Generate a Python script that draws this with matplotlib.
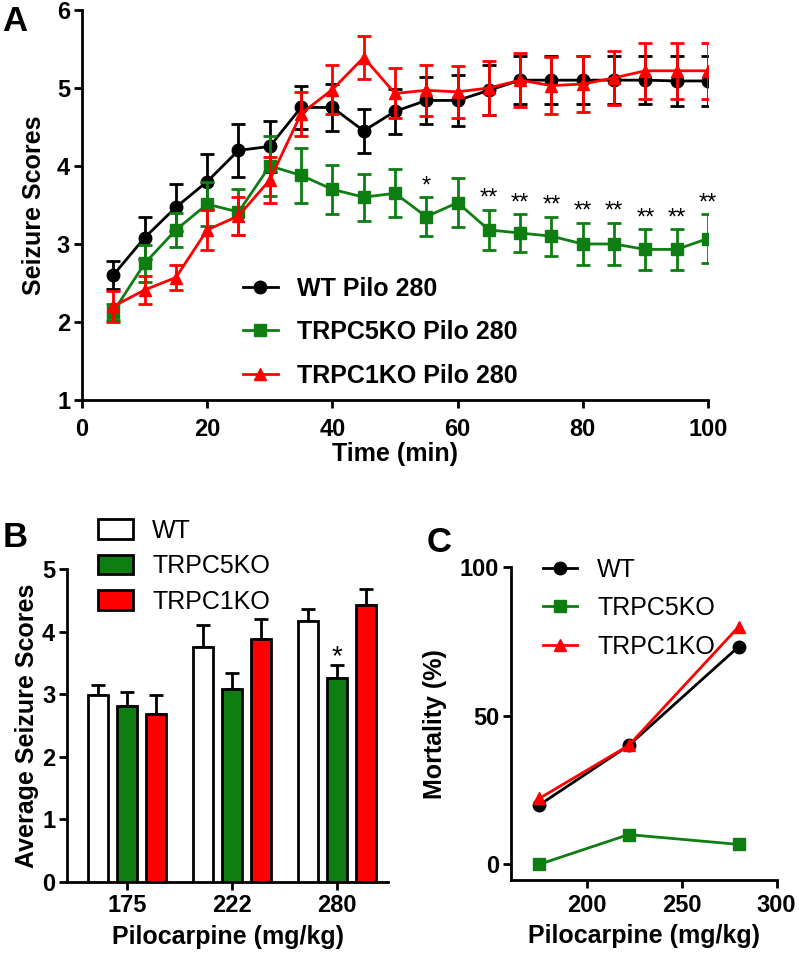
import matplotlib

matplotlib.use("Agg")
import matplotlib.pyplot as plt
from matplotlib import font_manager
from matplotlib.lines import Line2D
import numpy as np

# panel A: seizure score time course at pilocarpine 280 mg/kg
TIME = [5, 10, 15, 20, 25, 30, 35, 40, 45, 50, 55, 60, 65, 70, 75, 80, 85, 90, 95, 100]
WT_MEAN = [2.6, 3.08, 3.47, 3.8, 4.2, 4.25, 4.75, 4.75, 4.45, 4.7, 4.84, 4.84, 4.97,
           5.1, 5.1, 5.1, 5.1, 5.1, 5.09, 5.09]
WT_SEM = [0.18, 0.27, 0.3, 0.35, 0.34, 0.33, 0.28, 0.3, 0.28, 0.29, 0.3, 0.33, 0.32,
          0.31, 0.31, 0.31, 0.31, 0.31, 0.32, 0.32]
C5_MEAN = [2.13, 2.75, 3.18, 3.51, 3.41, 4.0, 3.88, 3.7, 3.6, 3.65, 3.35, 3.53, 3.18,
           3.14, 3.1, 3.0, 3.0, 2.93, 2.93, 3.07]
C5_SEM = [0.1, 0.24, 0.22, 0.28, 0.3, 0.38, 0.35, 0.31, 0.3, 0.31, 0.25, 0.31, 0.26,
          0.24, 0.25, 0.27, 0.27, 0.26, 0.26, 0.31]
C1_MEAN = [2.2, 2.41, 2.57, 3.18, 3.36, 3.82, 4.67, 4.98, 5.39, 4.93, 4.97, 4.95, 5.0,
           5.1, 5.03, 5.05, 5.13, 5.22, 5.22, 5.22]
C1_SEM = [0.2, 0.18, 0.16, 0.26, 0.24, 0.29, 0.28, 0.32, 0.28, 0.32, 0.33, 0.33, 0.35,
          0.35, 0.37, 0.36, 0.35, 0.36, 0.36, 0.36]
STAR_TIMES = [55, 65, 70, 75, 80, 85, 90, 95, 100]
STAR_LABELS = ["*", "**", "**", "**", "**", "**", "**", "**", "**"]

# panel B: average seizure score per dose
DOSES = ["175", "222", "280"]
BAR_WT = [2.98, 3.76, 4.17]
BAR_WT_SEM = [0.17, 0.35, 0.19]
BAR_C5 = [2.81, 3.08, 3.26]
BAR_C5_SEM = [0.22, 0.26, 0.21]
BAR_C1 = [2.68, 3.88, 4.42]
BAR_C1_SEM = [0.3, 0.33, 0.26]

# panel C: mortality per dose
MORT_DOSE = [175, 222, 280]
MORT_WT = [20, 40, 73.3]
MORT_C5 = [0, 10, 6.7]
MORT_C1 = [22.2, 40, 80]

GREEN = "#0e7d12"
RED = "#ff0000"


def _pick_family(*names):
    available = {f.name for f in font_manager.fontManager.ttflist}
    for name in names:
        if name in available:
            return name
    return "DejaVu Sans"


SANS = _pick_family("Liberation Sans", "Arial")


def _style_axes(ax, labelsize=17):
    for side in ("top", "right"):
        ax.spines[side].set_visible(False)
    for side in ("left", "bottom"):
        ax.spines[side].set_linewidth(2)
    ax.tick_params(width=2, length=6, labelsize=labelsize, direction="out", pad=2.5)
    for lbl in ax.get_xticklabels() + ax.get_yticklabels():
        lbl.set_fontfamily(SANS)
        lbl.set_fontweight("bold")


def _label(ax, xlabel, ylabel, xpad, ypad):
    ax.set_xlabel(xlabel, fontsize=18, fontweight="bold", family=SANS, labelpad=xpad)
    ax.set_ylabel(ylabel, fontsize=18, fontweight="bold", family=SANS, labelpad=ypad)


def _panel_letter(fig, x, y, letter):
    fig.text(x, y, letter, fontsize=25, fontweight="bold", family=SANS, va="top")


def panel_a(fig):
    ax = fig.add_axes([0.1026, 0.5825, 0.7835, 0.4071])
    kw = dict(lw=2, elinewidth=2, capsize=5, capthick=2, ms=9)
    series = [
        (WT_MEAN, WT_SEM, "black", "o", "WT Pilo 280"),
        (C5_MEAN, C5_SEM, GREEN, "s", "TRPC5KO Pilo 280"),
        (C1_MEAN, C1_SEM, RED, "^", "TRPC1KO Pilo 280"),
    ]
    handles = []
    for z, (mean, sem, color, marker, label) in enumerate(series):
        ax.errorbar(TIME, mean, yerr=sem, color=color, marker=marker, zorder=3 + z, **kw)
        handles.append(Line2D([], [], color=color, marker=marker, lw=2, ms=9, label=label))

    for t, s in zip(STAR_TIMES, STAR_LABELS):
        i = TIME.index(t)
        ax.text(t, C5_MEAN[i] + C5_SEM[i] + 0.14, s, ha="center", va="center",
                fontsize=17, family=SANS)

    ax.set_xlim(0, 100)
    ax.set_ylim(1, 6)
    ax.set_xticks(range(0, 101, 20))
    ax.set_yticks(range(1, 7))
    _style_axes(ax)
    ax.tick_params(axis="x", pad=7)
    _label(ax, "Time (min)", "Seizure Scores", 0.5, 8)

    ax.legend(handles=handles, loc="upper left", bbox_to_anchor=(0.257, 0.316),
              frameon=False, handlelength=1.4, handletextpad=0.76,
              labelspacing=0.78, borderpad=0, borderaxespad=0,
              prop={"family": SANS, "size": 18, "weight": "bold"})

    _panel_letter(fig, 0.003, 0.9953, "A")


def panel_b(fig):
    ax = fig.add_axes([0.0839, 0.0797, 0.4018, 0.3261])
    x = np.arange(len(DOSES))
    width = 0.19
    off = 0.276
    groups = [
        (BAR_WT, BAR_WT_SEM, "white", "WT", -off),
        (BAR_C5, BAR_C5_SEM, GREEN, "TRPC5KO", 0.0),
        (BAR_C1, BAR_C1_SEM, RED, "TRPC1KO", off),
    ]
    for vals, sem, color, label, dx in groups:
        ax.bar(x + dx, vals, width, color=color, edgecolor="black", linewidth=2,
               label=label, zorder=3)
        ax.errorbar(x + dx, vals, yerr=[np.zeros(len(sem)), sem], fmt="none",
                    ecolor="black", elinewidth=2, capsize=5, capthick=2, zorder=2)

    ax.text(x[2], BAR_C5[2] + BAR_C5_SEM[2] + 0.13, "*", ha="center", va="center",
            fontsize=20, family=SANS)

    ax.set_xlim(-0.57, 2.49)
    ax.set_ylim(0, 5)
    ax.set_xticks(x)
    ax.set_xticklabels(DOSES)
    ax.set_yticks(range(0, 6))
    _style_axes(ax)
    ax.tick_params(axis="x", pad=3)
    _label(ax, "Pilocarpine (mg/kg)", "Average Seizure Scores", 6, 2)

    fig.legend(*ax.get_legend_handles_labels(), loc="upper left",
               bbox_to_anchor=(0.1227, 0.4586), frameon=False,
               prop={"family": SANS, "size": 18}, handlelength=1.4, handleheight=0.8,
               handletextpad=0.76, labelspacing=0.46, borderpad=0, borderaxespad=0)

    _panel_letter(fig, 0.003, 0.4557, "B")


def panel_c(fig):
    ax = fig.add_axes([0.6395, 0.0814, 0.3325, 0.3264])
    kw = dict(lw=2, ms=9, clip_on=False)
    ax.plot(MORT_DOSE, MORT_WT, color="black", marker="o", label="WT", zorder=3, **kw)
    ax.plot(MORT_DOSE, MORT_C5, color=GREEN, marker="s", label="TRPC5KO", zorder=3, **kw)
    ax.plot(MORT_DOSE, MORT_C1, color=RED, marker="^", label="TRPC1KO", zorder=4, **kw)

    ax.set_xlim(160, 300)
    ax.set_ylim(-5.3, 100)
    ax.set_xticks([200, 250, 300])
    ax.set_yticks([0, 50, 100])
    _style_axes(ax)
    ax.tick_params(axis="x", pad=4)
    _label(ax, "Pilocarpine (mg/kg)", "Mortality (%)", 5, 9.5)

    fig.legend(*ax.get_legend_handles_labels(), loc="upper left",
               bbox_to_anchor=(0.6796, 0.4178), frameon=False,
               prop={"family": SANS, "size": 18}, handlelength=1.36,
               handletextpad=0.8, labelspacing=0.58, borderpad=0, borderaxespad=0)

    _panel_letter(fig, 0.534, 0.451, "C")


def main():
    fig = plt.figure(figsize=(7.99, 9.58), dpi=100)
    panel_a(fig)
    panel_b(fig)
    panel_c(fig)
    fig.savefig("out.png", dpi=100)
    plt.close(fig)


if __name__ == "__main__":
    main()
